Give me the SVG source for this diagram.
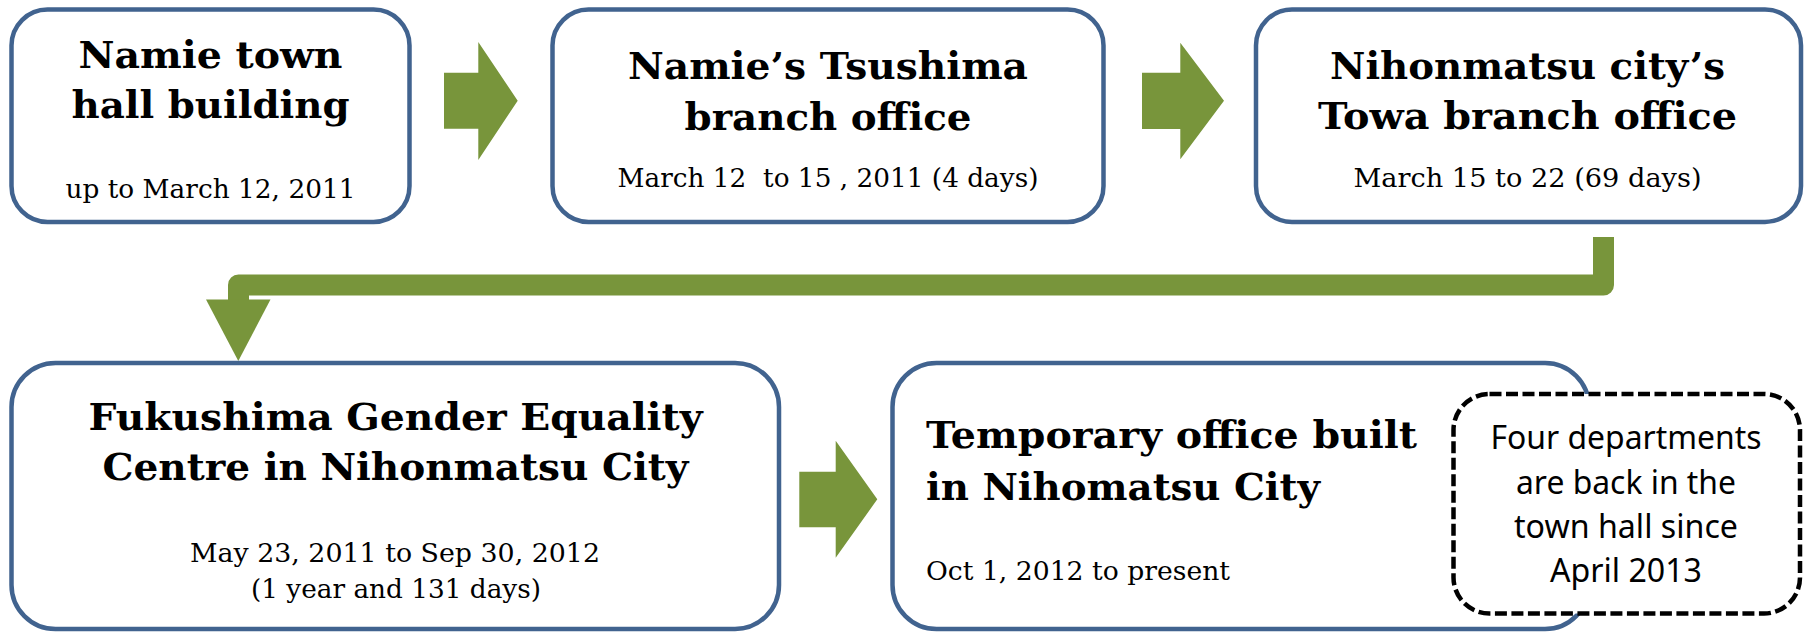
<svg xmlns="http://www.w3.org/2000/svg" width="1806" height="632" viewBox="0 0 1806 632">
<style>
.box{fill:#fff;stroke:#41638f;stroke-width:4.5}
.dash{fill:#fff;stroke:#000;stroke-width:4.5;stroke-dasharray:12 4.5}
.arr{fill:#78953b}
.ttl{font-family:"DejaVu Serif","Liberation Serif",serif;font-weight:bold;font-size:38px;fill:#000}
.dt{font-family:"DejaVu Serif","Liberation Serif",serif;font-size:25.5px;fill:#000}
.sn{font-family:"Noto Sans","Open Sans","Liberation Sans",sans-serif;font-size:32px;fill:#000;text-anchor:middle}
.c{text-anchor:middle}
</style>
<rect width="1806" height="632" fill="#fff"/>
<g id="connectors">
<polygon class="arr" points="444,72.7 478.3,72.7 478.3,42 517.7,100.7 478.3,160 478.3,128.7 444,128.7"/>
<polygon class="arr" points="1142,72.7 1180.3,72.7 1180.3,42.7 1224,100.7 1180.3,159.3 1180.3,129 1142,129"/>
<polyline points="1603.5,237 1603.5,285 238.5,285 238.5,300.5" fill="none" stroke="#78953b" stroke-width="21" stroke-linejoin="round"/>
<polygon class="arr" points="206,299.5 270.5,299.5 238.3,361"/>
<polygon class="arr" points="799.3,471.7 835.7,471.7 835.7,440.7 877.3,499.3 835.7,557.7 835.7,527.3 799.3,527.3"/>
</g>
<g id="node1">
<rect class="box" x="11.5" y="9.5" width="398" height="212.5" rx="36"/>
<text class="ttl c" x="210.5" y="68.3" textLength="264" lengthAdjust="spacingAndGlyphs">Namie town</text>
<text class="ttl c" x="210.5" y="118.3" textLength="278" lengthAdjust="spacingAndGlyphs">hall building</text>
<text class="dt c" x="210.5" y="198.3" textLength="290" lengthAdjust="spacingAndGlyphs">up to March 12, 2011</text>
</g>
<g id="node2">
<rect class="box" x="552.5" y="9.5" width="551" height="212.5" rx="36"/>
<text class="ttl c" x="828" y="79" textLength="400" lengthAdjust="spacingAndGlyphs">Namie’s Tsushima</text>
<text class="ttl c" x="828" y="130" textLength="287" lengthAdjust="spacingAndGlyphs">branch office</text>
<text class="dt c" x="828" y="186.7" textLength="421" lengthAdjust="spacingAndGlyphs" style="white-space:pre" xml:space="preserve">March 12  to 15 , 2011 (4 days)</text>
</g>
<g id="node3">
<rect class="box" x="1256" y="9.5" width="545" height="212.5" rx="36"/>
<text class="ttl c" x="1527.5" y="79" textLength="395" lengthAdjust="spacingAndGlyphs">Nihonmatsu city’s</text>
<text class="ttl c" x="1527.5" y="129.3" textLength="419" lengthAdjust="spacingAndGlyphs">Towa branch office</text>
<text class="dt c" x="1527.5" y="186.7" textLength="348" lengthAdjust="spacingAndGlyphs">March 15 to 22 (69 days)</text>
</g>
<g id="node4">
<rect class="box" x="11.5" y="363" width="767.5" height="266" rx="44"/>
<text class="ttl c" x="395.5" y="430" textLength="614" lengthAdjust="spacingAndGlyphs">Fukushima Gender Equality</text>
<text class="ttl c" x="395.5" y="480" textLength="586" lengthAdjust="spacingAndGlyphs">Centre in Nihonmatsu City</text>
<text class="dt c" x="395" y="561.7" textLength="410" lengthAdjust="spacingAndGlyphs">May 23, 2011 to Sep 30, 2012</text>
<text class="dt c" x="396" y="598" textLength="290" lengthAdjust="spacingAndGlyphs">(1 year and 131 days)</text>
</g>
<g id="node5">
<rect class="box" x="892.5" y="363" width="696.5" height="266" rx="44"/>
<text class="ttl" x="926" y="448.3" textLength="491" lengthAdjust="spacingAndGlyphs">Temporary office built</text>
<text class="ttl" x="926" y="500" textLength="394" lengthAdjust="spacingAndGlyphs">in Nihomatsu City</text>
<text class="dt" x="926" y="580" textLength="304" lengthAdjust="spacingAndGlyphs">Oct 1, 2012 to present</text>
</g>
<g id="note">
<rect class="dash" x="1453.5" y="394" width="346.5" height="219.5" rx="36"/>
<text class="sn" x="1626" y="449.3" textLength="271" lengthAdjust="spacingAndGlyphs">Four departments</text>
<text class="sn" x="1626" y="494" textLength="220" lengthAdjust="spacingAndGlyphs">are back in the</text>
<text class="sn" x="1626" y="538.3" textLength="224" lengthAdjust="spacingAndGlyphs">town hall since</text>
<text class="sn" x="1626" y="582.3" textLength="152" lengthAdjust="spacingAndGlyphs">April 2013</text>
</g>
</svg>
